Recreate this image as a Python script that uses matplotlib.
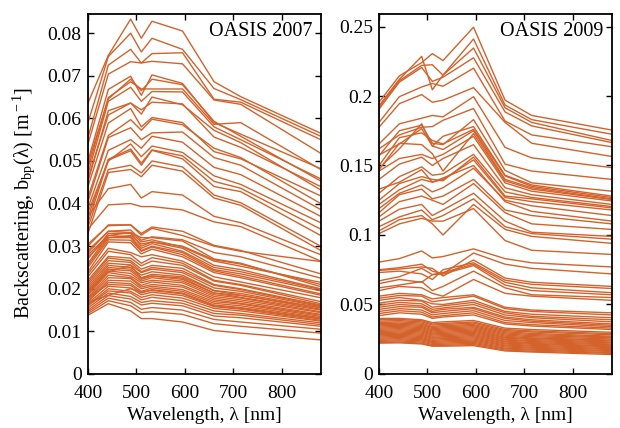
import numpy as np
import matplotlib
matplotlib.use('Agg')
import matplotlib.pyplot as plt
from matplotlib.ticker import FuncFormatter

plt.rcParams['font.family'] = ['Liberation Serif', 'DejaVu Serif']
plt.rcParams['mathtext.fontset'] = 'custom'
plt.rcParams['mathtext.rm'] = 'Liberation Serif'
plt.rcParams['mathtext.it'] = 'Liberation Serif:italic'

# wavelengths [nm]
wl = [400, 442, 488, 510, 532, 595, 660, 715, 880]

# OASIS 2007 spectra, b_bp in 1e-3 m^-1
bbp_2007 = [
    [63.6, 74.8, 83.3, 78.8, 82.8, 80.5, 68.6, 65.1, 56.5],
    [59.0, 74.5, 80.0, 75.6, 78.8, 76.2, 67.0, 64.4, 55.8],
    [55.5, 72.5, 76.2, 73.0, 75.2, 75.4, 64.5, 63.8, 55.0],
    [54.0, 70.4, 73.3, 73.0, 73.4, 72.8, 64.3, 63.3, 51.8],
    [50.0, 66.8, 69.9, 65.4, 70.2, 68.2, 59.0, 56.3, 48.2],
    [48.2, 64.9, 68.6, 66.9, 66.9, 66.9, 58.6, 59.0, 48.0],
    [49.4, 64.6, 69.2, 66.5, 69.2, 67.9, 59.3, 55.8, 45.3],
    [47.0, 64.0, 67.3, 64.0, 66.3, 66.2, 58.0, 55.0, 45.8],
    [45.2, 61.8, 63.6, 62.0, 63.8, 63.4, 55.6, 53.2, 44.0],
    [46.0, 60.8, 63.6, 61.0, 65.0, 63.2, 57.2, 54.3, 43.2],
    [44.0, 58.9, 62.3, 58.0, 60.2, 59.0, 52.2, 50.5, 41.8],
    [41.5, 56.0, 59.7, 57.2, 59.8, 58.5, 53.0, 50.8, 40.0],
    [40.5, 55.5, 57.8, 55.0, 56.6, 56.8, 50.8, 49.0, 38.6],
    [39.0, 52.5, 55.0, 53.0, 55.8, 54.4, 48.5, 46.8, 37.0],
    [38.0, 50.0, 54.0, 51.0, 53.5, 52.0, 46.5, 44.5, 35.5],
    [36.8, 50.4, 52.8, 49.5, 52.6, 51.2, 45.2, 43.6, 34.0],
    [35.5, 50.2, 52.4, 49.0, 52.5, 50.5, 44.0, 42.8, 32.5],
    [34.5, 48.0, 49.0, 47.2, 50.0, 48.6, 42.0, 40.2, 30.0],
    [33.0, 47.3, 48.0, 46.3, 49.0, 47.6, 41.3, 39.6, 29.0],
    [37.0, 43.5, 44.5, 41.3, 42.8, 42.0, 37.0, 35.5, 28.0],
    [34.0, 39.7, 40.0, 39.3, 39.3, 38.5, 35.7, 34.6, 26.5],
    [30.5, 34.8, 35.0, 33.0, 34.5, 33.5, 30.2, 29.0, 23.5],
    [29.0, 33.5, 33.8, 31.4, 32.2, 31.5, 28.5, 27.5, 22.5],
    [28.0, 32.5, 33.2, 32.0, 32.0, 31.2, 27.0, 26.0, 20.5],
    [27.5, 32.0, 32.5, 30.5, 31.0, 30.0, 26.8, 25.8, 21.0],
    [30.0, 35.0, 35.0, 32.6, 34.2, 32.5, 30.0, 28.8, 26.4],
    [28.5, 33.5, 33.2, 31.0, 31.5, 29.8, 26.5, 25.3, 21.5],
    [27.0, 33.0, 33.0, 30.0, 31.0, 29.5, 25.5, 24.5, 20.0],
    [26.0, 32.5, 32.2, 29.5, 30.6, 28.8, 25.0, 24.0, 19.8],
    [25.5, 32.0, 32.0, 29.0, 30.0, 28.5, 24.5, 23.5, 19.5],
    [25.0, 31.5, 31.4, 28.8, 29.8, 28.0, 24.2, 23.0, 18.8],
    [24.0, 31.0, 30.8, 28.2, 29.3, 27.5, 23.8, 22.6, 18.5],
    [23.5, 29.5, 28.5, 27.5, 28.0, 26.5, 22.8, 21.6, 17.9],
    [22.8, 28.8, 28.0, 26.0, 27.3, 26.0, 22.0, 21.0, 17.0],
    [22.0, 27.6, 27.2, 25.4, 26.5, 25.5, 21.8, 20.8, 16.5],
    [21.5, 27.2, 26.6, 24.6, 25.5, 24.8, 21.0, 20.0, 16.2],
    [21.0, 26.6, 26.2, 24.0, 25.0, 24.2, 20.8, 19.8, 16.0],
    [20.5, 26.0, 25.6, 23.8, 24.6, 23.8, 20.2, 19.4, 15.8],
    [20.0, 25.5, 25.0, 23.2, 24.0, 23.2, 19.6, 18.9, 15.5],
    [19.6, 25.0, 24.6, 22.6, 23.4, 22.8, 19.5, 18.5, 15.2],
    [19.2, 24.6, 24.2, 22.2, 23.0, 22.2, 19.0, 18.0, 15.0],
    [18.8, 24.2, 23.6, 21.8, 22.6, 21.8, 18.6, 17.8, 14.6],
    [18.5, 23.8, 23.0, 21.4, 22.0, 21.4, 18.2, 17.4, 14.4],
    [18.0, 23.2, 22.6, 20.8, 21.6, 20.8, 17.8, 17.0, 14.0],
    [17.6, 22.6, 22.4, 20.4, 21.0, 20.4, 17.4, 16.6, 13.8],
    [17.2, 22.0, 21.8, 20.0, 20.6, 19.8, 17.0, 16.4, 13.5],
    [17.0, 21.5, 21.2, 19.4, 20.2, 19.4, 16.6, 16.0, 13.2],
    [18.0, 21.0, 20.8, 19.0, 19.8, 19.0, 16.2, 15.6, 13.0],
    [16.6, 20.6, 20.2, 18.6, 19.2, 18.4, 15.8, 15.2, 12.6],
    [16.2, 20.0, 19.4, 18.0, 18.6, 17.8, 15.4, 14.8, 12.4],
    [16.0, 19.5, 19.0, 17.4, 18.0, 17.2, 14.8, 14.2, 12.0],
    [15.5, 19.0, 18.2, 16.8, 17.2, 16.6, 14.2, 13.8, 11.6],
    [15.0, 18.4, 17.6, 16.2, 16.6, 16.0, 13.6, 13.2, 11.2],
    [14.6, 17.8, 16.8, 15.2, 15.6, 15.0, 12.8, 12.2, 10.5],
    [14.2, 17.2, 16.0, 14.4, 14.6, 14.0, 11.8, 11.2, 9.6],
    [13.8, 16.5, 14.8, 13.0, 13.0, 12.2, 10.2, 9.6, 8.0],
    [19.5, 24.0, 25.5, 22.5, 23.0, 22.5, 19.0, 18.4, 15.6],
    [16.8, 18.5, 20.0, 19.2, 19.6, 18.8, 16.0, 15.4, 12.9],
]

# OASIS 2009 spectra, b_bp in 1e-3 m^-1
bbp_2009 = [
    [195.5, 214.5, 224.0, 230.5, 225.5, 249.5, 197.0, 186.0, 175.5],
    [193.0, 212.0, 228.5, 204.5, 215.0, 241.0, 193.5, 183.0, 172.5],
    [192.0, 211.0, 222.0, 222.5, 215.0, 234.5, 191.5, 181.0, 168.0],
    [190.5, 210.0, 220.5, 210.5, 213.5, 227.5, 188.5, 178.5, 166.5],
    [181.0, 199.5, 206.5, 209.0, 207.0, 220.0, 182.0, 172.0, 163.5],
    [177.5, 194.5, 201.0, 195.5, 197.0, 206.0, 181.0, 166.0, 156.5],
    [165.5, 180.0, 184.0, 186.0, 185.0, 199.5, 163.0, 155.5, 148.5],
    [162.0, 172.0, 177.5, 178.0, 182.5, 191.0, 151.0, 146.0, 140.0],
    [157.0, 175.0, 179.0, 166.0, 165.0, 183.0, 146.5, 137.5, 131.5],
    [157.5, 165.5, 176.5, 164.0, 171.0, 178.0, 143.0, 136.0, 128.0],
    [150.0, 170.0, 173.5, 168.0, 165.5, 176.0, 142.5, 135.0, 127.0],
    [148.0, 162.0, 180.0, 164.0, 161.5, 175.0, 140.0, 134.0, 126.0],
    [147.0, 166.0, 165.0, 158.5, 146.0, 173.0, 139.0, 133.0, 125.5],
    [146.0, 155.0, 158.0, 155.0, 158.0, 171.0, 137.5, 131.5, 124.5],
    [140.0, 151.0, 156.0, 150.0, 155.0, 165.0, 134.0, 129.0, 122.0],
    [133.0, 138.0, 147.0, 138.0, 141.0, 150.0, 124.0, 117.0, 110.0],
    [130.0, 142.0, 149.0, 143.0, 144.0, 158.0, 131.0, 127.0, 120.5],
    [125.0, 137.0, 142.0, 140.0, 139.0, 156.0, 128.0, 126.0, 119.5],
    [122.0, 132.5, 140.0, 138.0, 140.0, 154.0, 127.0, 124.0, 118.0],
    [119.0, 130.0, 136.0, 131.0, 134.0, 148.0, 125.0, 121.0, 114.0],
    [116.0, 129.0, 133.0, 126.0, 128.0, 140.0, 118.0, 114.0, 108.0],
    [113.0, 124.0, 128.0, 125.0, 122.0, 137.0, 116.0, 108.0, 104.0],
    [110.0, 118.5, 122.0, 114.0, 118.0, 130.0, 110.0, 102.0, 99.0],
    [106.0, 113.0, 118.0, 111.0, 114.0, 126.0, 106.0, 101.0, 97.0],
    [103.0, 111.0, 114.0, 108.0, 100.0, 122.0, 104.0, 99.0, 94.0],
    [101.0, 108.0, 112.0, 110.0, 110.0, 119.0, 96.0, 89.0, 86.0],
    [80.5, 83.0, 88.5, 83.5, 84.5, 90.0, 83.0, 80.0, 77.0],
    [75.0, 76.5, 79.0, 74.0, 72.0, 87.0, 79.0, 76.0, 72.0],
    [74.5, 75.5, 77.0, 76.0, 70.5, 82.0, 69.0, 66.0, 63.0],
    [73.0, 74.0, 72.0, 68.0, 75.0, 80.0, 67.5, 64.5, 61.5],
    [67.0, 70.0, 76.0, 71.5, 73.0, 79.0, 66.0, 62.0, 58.5],
    [65.0, 68.0, 66.0, 71.5, 72.0, 78.0, 64.0, 60.0, 57.0],
    [62.0, 64.0, 66.5, 60.0, 63.0, 74.0, 62.0, 57.0, 55.0],
    [60.0, 63.0, 62.0, 58.0, 56.0, 68.0, 58.0, 56.0, 53.0],
    [56.0, 58.0, 57.0, 54.0, 55.0, 57.0, 48.0, 46.0, 44.0],
    [54.5, 56.5, 56.0, 52.0, 53.0, 56.0, 47.0, 45.0, 42.5],
    [53.0, 55.0, 53.0, 50.5, 50.0, 53.0, 45.0, 43.0, 40.5],
    [51.0, 53.0, 52.5, 48.0, 49.0, 51.5, 44.0, 41.5, 39.0],
    [49.5, 51.5, 50.5, 46.5, 47.5, 50.0, 42.5, 40.5, 37.5],
    [48.0, 50.0, 49.0, 45.0, 46.5, 48.0, 41.0, 39.0, 36.0],
    [46.5, 48.5, 48.0, 44.0, 45.0, 47.0, 40.0, 38.0, 35.0],
    [45.0, 47.0, 46.0, 42.5, 43.5, 45.5, 38.5, 37.0, 34.0],
    [43.5, 45.5, 44.5, 41.0, 42.0, 44.0, 37.0, 35.5, 33.0],
    [42.0, 44.0, 43.0, 40.0, 41.0, 42.5, 36.0, 34.5, 32.0],
    [40.0, 40.0, 39.0, 37.0, 37.5, 38.5, 33.0, 32.0, 30.0],
    [39.0, 39.2, 38.4, 36.0, 36.4, 37.4, 32.0, 31.0, 29.0],
    [38.0, 38.4, 37.5, 35.2, 35.6, 36.6, 31.2, 30.2, 28.2],
    [37.0, 37.5, 36.6, 34.2, 34.8, 35.6, 30.4, 29.2, 27.2],
    [36.2, 36.6, 35.8, 33.4, 34.0, 34.8, 29.6, 28.4, 26.6],
    [35.4, 35.8, 35.0, 32.6, 33.2, 34.0, 28.8, 27.6, 26.0],
    [34.6, 35.0, 34.2, 31.8, 32.4, 33.2, 28.0, 26.8, 25.2],
    [33.8, 34.2, 33.4, 31.0, 31.6, 32.4, 27.2, 26.0, 24.4],
    [33.0, 33.4, 32.6, 30.2, 30.8, 31.6, 26.4, 25.4, 23.8],
    [32.2, 32.6, 31.8, 29.4, 30.0, 30.8, 25.8, 24.8, 23.0],
    [31.4, 31.8, 31.0, 28.8, 29.2, 30.0, 25.0, 24.0, 22.4],
    [30.6, 31.0, 30.2, 28.0, 28.4, 29.2, 24.4, 23.4, 21.6],
    [29.8, 30.2, 29.4, 27.2, 27.6, 28.4, 23.6, 22.6, 21.0],
    [29.0, 29.4, 28.6, 26.4, 26.8, 27.6, 23.0, 22.0, 20.2],
    [28.2, 28.6, 27.8, 25.8, 26.0, 26.8, 22.2, 21.4, 19.6],
    [27.4, 27.8, 27.0, 25.0, 25.4, 26.0, 21.6, 20.6, 19.0],
    [26.6, 27.0, 26.2, 24.2, 24.6, 25.2, 20.8, 20.0, 18.2],
    [25.8, 26.2, 25.4, 23.4, 23.8, 24.4, 20.2, 19.2, 17.6],
    [25.0, 25.4, 24.6, 22.8, 23.0, 23.6, 19.4, 18.6, 16.8],
    [24.2, 24.6, 23.8, 22.0, 22.2, 22.8, 18.6, 17.8, 16.2],
    [23.4, 23.8, 23.0, 21.2, 21.4, 22.0, 18.0, 17.2, 15.4],
    [22.6, 23.0, 22.2, 20.4, 20.6, 21.2, 17.2, 16.4, 14.8],
    [22.2, 22.4, 21.6, 20.0, 20.0, 20.4, 16.6, 15.8, 14.0],
]

line_color = '#D4622B'
fs = 14

fig = plt.figure(figsize=(6.2, 4.28), dpi=100)
ax1 = fig.add_axes([0.1419, 0.1262, 0.3754, 0.8411])
ax2 = fig.add_axes([0.6113, 0.1262, 0.3753, 0.8411])

panels = [
    (ax1, bbp_2007, 0.0845, [0, 0.01, 0.02, 0.03, 0.04, 0.05, 0.06, 0.07, 0.08], 'OASIS 2007'),
    (ax2, bbp_2009, 0.259, [0, 0.05, 0.1, 0.15, 0.2, 0.25], 'OASIS 2009'),
]

for ax, spectra, ytop, yticks, title in panels:
    for s in spectra:
        ax.plot(wl, np.array(s) / 1000.0, color=line_color, lw=1.0)
    ax.set_xlim(400, 880)
    ax.set_ylim(0, ytop)
    ax.set_xticks([400, 500, 600, 700, 800])
    ax.set_yticks(yticks)
    ax.yaxis.set_major_formatter(FuncFormatter(lambda v, p: '%g' % v))
    ax.tick_params(direction='in', top=True, right=True, length=4, width=1.0,
                   labelsize=fs)
    ax.tick_params(axis='x', pad=8)
    ax.tick_params(axis='y', pad=4.5)
    for sp in ax.spines.values():
        sp.set_linewidth(1.3)
    ax.set_xlabel('Wavelength, λ [nm]', fontsize=fs, va='top')
    ax.xaxis.set_label_coords(0.5, -0.093)
    ax.text(0.963, 0.951, title, transform=ax.transAxes, ha='right', va='center',
            fontsize=fs + 0.5)

ax1.set_ylabel(r'Backscattering, b$_{\rm bp}$(λ) [m$^{\rm -1}$]', fontsize=fs + 0.5)
ax1.yaxis.set_label_coords(-0.219, 0.474)

fig.savefig('out.png', dpi=100)
